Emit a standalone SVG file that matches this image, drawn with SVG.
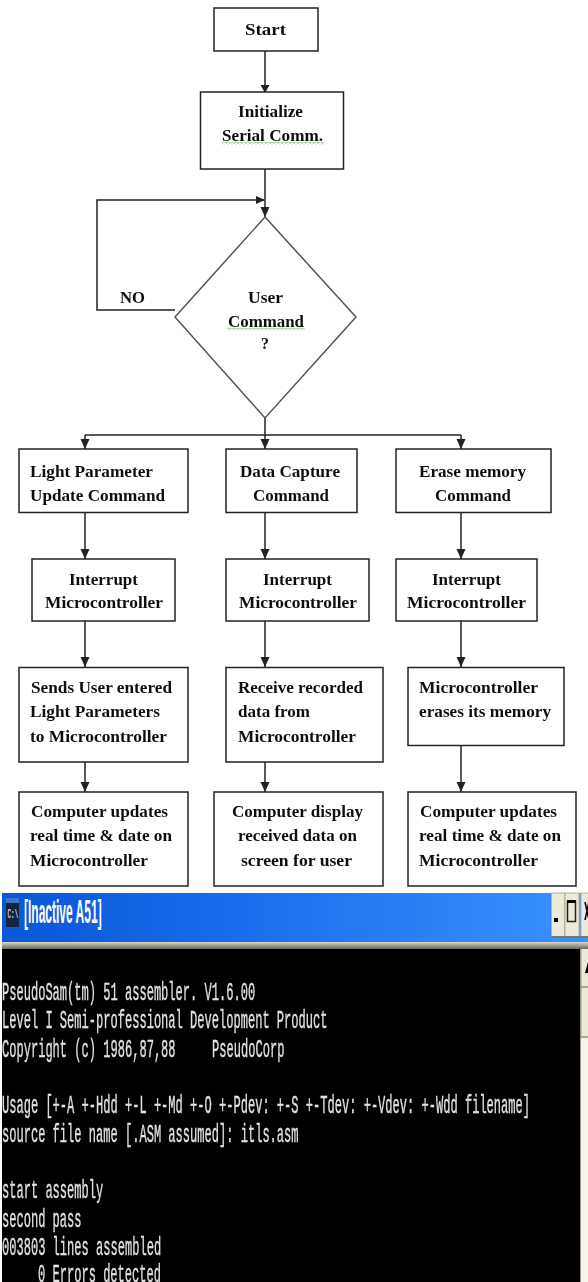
<svg xmlns="http://www.w3.org/2000/svg" width="588" height="1282" viewBox="0 0 588 1282">
<style>
.box{fill:#fff;stroke:#222;stroke-width:1.5}
.conn{fill:none;stroke:#222;stroke-width:1.5}
.t{font-family:"Liberation Serif","Times New Roman",serif;font-weight:bold;font-size:17px;fill:#111;filter:url(#soft)}
.c{font-family:"Liberation Mono","Courier New",monospace;font-size:26px;fill:#e2e2e2;stroke:#e2e2e2;stroke-width:.35;filter:url(#soft)}
.sq{fill:url(#squig)}
.btn{fill:#ece9d8;stroke:#b5b29e;stroke-width:1}
</style>
<defs>
<filter id="soft" x="-5%" y="-20%" width="110%" height="140%"><feGaussianBlur stdDeviation="0.3"/></filter>
<pattern id="squig" patternUnits="userSpaceOnUse" width="4" height="3" x="0" y="0">
<path d="M0 0.5 L2 2.5 L4 0.5" fill="none" stroke="#3fa83f" stroke-width="0.8"/>
</pattern>
<linearGradient id="title" x1="0" x2="1" y1="0" y2="0">
<stop offset="0" stop-color="#0a57d8"/>
<stop offset="0.4" stop-color="#1a6cec"/>
<stop offset="1" stop-color="#3b92ff"/>
</linearGradient>
<linearGradient id="sep" x1="0" x2="0" y1="0" y2="1">
<stop offset="0" stop-color="#dcd8c4"/>
<stop offset="1" stop-color="#66665a"/>
</linearGradient>
</defs>
<rect width="588" height="1282" fill="#fff"/>

<g id="connectors" class="conn">
<path d="M265 51V92"/>
<path d="M265 169V217" />
<path d="M175 310H97V200H264" />
<path d="M265 418V435"/>
<path d="M85 435H461"/>
<path d="M85 435V449"/><path d="M265 435V449"/><path d="M461 435V449"/>
<path d="M85 513V559"/><path d="M265 513V559"/><path d="M461 513V559"/>
<path d="M85 621V667"/><path d="M265 621V667"/><path d="M461 621V667"/>
<path d="M85 762V792"/><path d="M265 762V792"/><path d="M461 745V792"/>
<g fill="#222" stroke="none">
<path d="M260.500 85L269.500 85L265 93Z"/>
<path d="M260.500 207L269.500 207L265 217Z"/>
<path d="M256 196L265 200L256 204Z"/>
<path d="M80.500 439L89.500 439L85 449Z"/><path d="M260.500 439L269.500 439L265 449Z"/><path d="M456.500 439L465.500 439L461 449Z"/>
<path d="M80.500 549L89.500 549L85 559Z"/><path d="M260.500 549L269.500 549L265 559Z"/><path d="M456.500 549L465.500 549L461 559Z"/>
<path d="M80.500 657L89.500 657L85 667Z"/><path d="M260.500 657L269.500 657L265 667Z"/><path d="M456.500 657L465.500 657L461 667Z"/>
<path d="M80.500 782L89.500 782L85 792Z"/><path d="M260.500 782L269.500 782L265 792Z"/><path d="M456.500 782L465.500 782L461 792Z"/>
</g>
</g>

<g id="start"><rect class="box" x="214" y="8" width="104" height="43"/><text class="t" x="245" y="35" textLength="41" lengthAdjust="spacingAndGlyphs">Start</text></g>
<g id="init"><rect class="box" x="200.500" y="92" width="143" height="77"/>
<text class="t" x="238" y="117" textLength="65" lengthAdjust="spacingAndGlyphs">Initialize</text>
<text class="t" x="222" y="141" textLength="101" lengthAdjust="spacingAndGlyphs">Serial Comm.</text>
<rect class="sq" x="222" y="142" width="102" height="3"/></g>
<g id="decision"><path d="M265 217L356 317L265 418L175 317Z" fill="#fff" stroke="#555" stroke-width="1.500"/>
<text class="t" x="248" y="303" textLength="35" lengthAdjust="spacingAndGlyphs">User</text>
<text class="t" x="228" y="327" textLength="76" lengthAdjust="spacingAndGlyphs">Command</text>
<rect class="sq" x="227" y="328" width="78" height="3"/>
<text class="t" x="261" y="349" textLength="8" lengthAdjust="spacingAndGlyphs">?</text></g>
<g id="no-label"><text class="t" x="120" y="303" textLength="25" lengthAdjust="spacingAndGlyphs">NO</text></g>

<g id="light-cmd"><rect class="box" x="19" y="449" width="169" height="63.500"/>
<text class="t" x="30" y="477" textLength="123" lengthAdjust="spacingAndGlyphs">Light Parameter</text>
<text class="t" x="30" y="501" textLength="135" lengthAdjust="spacingAndGlyphs">Update Command</text></g>
<g id="data-cmd"><rect class="box" x="226" y="449" width="131" height="63.500"/>
<text class="t" x="240" y="477" textLength="100" lengthAdjust="spacingAndGlyphs">Data Capture</text>
<text class="t" x="253" y="501" textLength="76" lengthAdjust="spacingAndGlyphs">Command</text></g>
<g id="erase-cmd"><rect class="box" x="396" y="449" width="155" height="63.500"/>
<text class="t" x="419" y="477" textLength="107" lengthAdjust="spacingAndGlyphs">Erase memory</text>
<text class="t" x="435" y="501" textLength="76" lengthAdjust="spacingAndGlyphs">Command</text></g>

<g id="int1"><rect class="box" x="32" y="559" width="143" height="62"/>
<text class="t" x="69" y="585" textLength="69" lengthAdjust="spacingAndGlyphs">Interrupt</text>
<text class="t" x="45" y="608" textLength="118" lengthAdjust="spacingAndGlyphs">Microcontroller</text></g>
<g id="int2"><rect class="box" x="226" y="559" width="143" height="62"/>
<text class="t" x="263" y="585" textLength="69" lengthAdjust="spacingAndGlyphs">Interrupt</text>
<text class="t" x="239" y="608" textLength="118" lengthAdjust="spacingAndGlyphs">Microcontroller</text></g>
<g id="int3"><rect class="box" x="396" y="559" width="141" height="62"/>
<text class="t" x="432" y="585" textLength="69" lengthAdjust="spacingAndGlyphs">Interrupt</text>
<text class="t" x="407" y="608" textLength="119" lengthAdjust="spacingAndGlyphs">Microcontroller</text></g>

<g id="send"><rect class="box" x="19" y="667.500" width="169" height="94.500"/>
<text class="t" x="31" y="693" textLength="141" lengthAdjust="spacingAndGlyphs">Sends User entered</text>
<text class="t" x="30" y="717" textLength="130" lengthAdjust="spacingAndGlyphs">Light Parameters</text>
<text class="t" x="30" y="742" textLength="137" lengthAdjust="spacingAndGlyphs">to Microcontroller</text></g>
<g id="receive"><rect class="box" x="226" y="667.500" width="157" height="94.500"/>
<text class="t" x="238" y="693" textLength="125" lengthAdjust="spacingAndGlyphs">Receive recorded</text>
<text class="t" x="238" y="717" textLength="72" lengthAdjust="spacingAndGlyphs">data from</text>
<text class="t" x="238" y="742" textLength="118" lengthAdjust="spacingAndGlyphs">Microcontroller</text></g>
<g id="erase"><rect class="box" x="408" y="667.500" width="156" height="78"/>
<text class="t" x="419" y="693" textLength="119" lengthAdjust="spacingAndGlyphs">Microcontroller</text>
<text class="t" x="419" y="717" textLength="132" lengthAdjust="spacingAndGlyphs">erases its memory</text></g>

<g id="update1"><rect class="box" x="19" y="792" width="169" height="94"/>
<text class="t" x="31" y="817" textLength="137" lengthAdjust="spacingAndGlyphs">Computer updates</text>
<text class="t" x="30" y="841" textLength="142" lengthAdjust="spacingAndGlyphs">real time &amp; date on</text>
<text class="t" x="30" y="866" textLength="118" lengthAdjust="spacingAndGlyphs">Microcontroller</text></g>
<g id="display"><rect class="box" x="214" y="792" width="169" height="94"/>
<text class="t" x="232" y="817" textLength="131" lengthAdjust="spacingAndGlyphs">Computer display</text>
<text class="t" x="238" y="841" textLength="119" lengthAdjust="spacingAndGlyphs">received data on</text>
<text class="t" x="241" y="866" textLength="111" lengthAdjust="spacingAndGlyphs">screen for user</text></g>
<g id="update3"><rect class="box" x="408" y="792" width="168" height="94"/>
<text class="t" x="420" y="817" textLength="137" lengthAdjust="spacingAndGlyphs">Computer updates</text>
<text class="t" x="419" y="841" textLength="142" lengthAdjust="spacingAndGlyphs">real time &amp; date on</text>
<text class="t" x="419" y="866" textLength="119" lengthAdjust="spacingAndGlyphs">Microcontroller</text></g>

<g id="console">
<rect x="2" y="893" width="586" height="50" fill="url(#title)"/>
<rect x="2" y="942" width="586" height="7" fill="url(#sep)"/>
<rect x="2" y="949" width="578" height="333" fill="#000"/>
<rect x="580" y="949" width="8" height="333" fill="#ece9d8"/>
<rect x="580" y="949" width="1.500" height="333" fill="#9a9a8a"/>
<rect x="581" y="986" width="7" height="2" fill="#a8a592"/>
<rect x="581" y="1036" width="7" height="2" fill="#a8a592"/>
<rect x="581" y="1038" width="7" height="244" fill="#f6f4ea"/>
<path d="M588 962L585 973H588Z" fill="#000"/>
<rect class="btn" x="551.500" y="893" width="13" height="43.500"/>
<rect class="btn" x="565" y="893" width="14" height="43.500"/>
<rect class="btn" x="581" y="893" width="8" height="43.500"/>
<rect x="551" y="936" width="37" height="2" fill="#77776a"/>
<rect x="554" y="918" width="4" height="4" fill="#000"/>
<rect x="567.500" y="901.500" width="8" height="20" fill="none" stroke="#222" stroke-width="1.500"/>
<rect x="567" y="900" width="9" height="3" fill="#000"/>
<path d="M585 902L589 920M589 902L585 920" stroke="#000" stroke-width="1.500"/>
<rect x="6" y="898" width="13" height="29" fill="#14233f"/>
<rect x="6" y="898" width="13" height="5" fill="#3f74c8"/>
<text transform="translate(7.500,918) scale(1,2)" font-family="Liberation Mono,monospace" font-size="6" fill="#fff">C:\</text>
<text transform="translate(24,923) scale(0.364,1)" font-family="Liberation Sans,Arial,sans-serif" font-weight="bold" font-size="33" fill="#fff">[Inactive A51]</text>
<g transform="scale(0.464,1)">
<text class="c" x="4.300" y="1000">PseudoSam(tm) 51 assembler. V1.6.00</text>
<text class="c" x="4.300" y="1028">Level I Semi-professional Development Product</text>
<text class="c" x="4.300" y="1057">Copyright (c) 1986,87,88</text>
<text class="c" x="457" y="1057">PseudoCorp</text>
<text class="c" x="4.300" y="1113">Usage [+-A +-Hdd +-L +-Md +-O +-Pdev: +-S +-Tdev: +-Vdev: +-Wdd filename]</text>
<text class="c" x="4.300" y="1142">source file name [.ASM assumed]: itls.asm</text>
<text class="c" x="4.300" y="1198">start assembly</text>
<text class="c" x="4.300" y="1227">second pass</text>
<text class="c" x="4.300" y="1255">003803 lines assembled</text>
<text class="c" x="82" y="1282">0 Errors detected</text>
</g>
</g>
</svg>
